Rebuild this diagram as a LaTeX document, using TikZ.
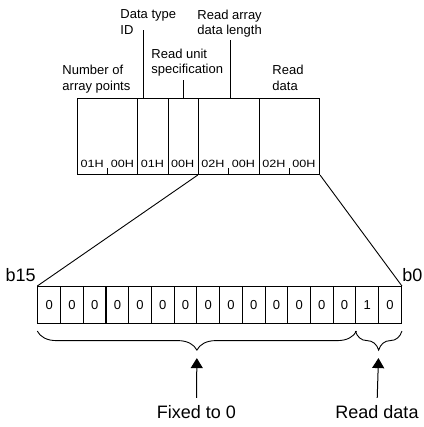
\documentclass[tikz,border=0pt]{standalone}
\usepackage{fontspec}
\setmainfont{Liberation Sans}
\usetikzlibrary{arrows.meta,decorations.pathreplacing,calc}

\begin{document}
\begin{tikzpicture}[
  x=1pt, y=-1pt, line width=0.9pt,
  field/.style={draw, line width=1.1pt, minimum height=76pt, inner sep=0pt, anchor=north west},
  hex/.style={font=\fontsize{10.5}{12}\selectfont, inner sep=0pt, xscale=1.2, transform shape},
  lbl/.style={font=\fontsize{13}{15.5}\selectfont, align=left, inner sep=0pt, anchor=north west},
  bit/.style={draw, line width=1.1pt, minimum width=22.72pt, minimum height=37pt,
              inner sep=0pt, anchor=north west, font=\fontsize{13}{15}\selectfont},
  big/.style={font=\fontsize{18}{20}\selectfont, inner sep=0pt},
  brc/.style={decorate, decoration={brace, mirror, amplitude=19pt}},
  arr/.style={-{Triangle[length=10pt, width=12pt]}, line width=1pt}
]
\useasboundingbox (0,0) rectangle (423,427);

% header words
\node[field, minimum width=60.3pt] (npts) at (77,98) {};
\node[field, minimum width=30.4pt] (dtid) at (137.3,98) {};
\node[field, minimum width=30pt] (unit) at (167.7,98) {};
\node[field, minimum width=61pt] (len) at (197.7,98) {};
\node[field, minimum width=60.3pt] (rdata) at (258.7,98) {};

\foreach \x/\t in {92.2/01H, 122.5/00H, 152.5/01H, 182.7/00H,
                   213/02H, 243.4/00H, 274/02H, 304/00H}
  \node[hex] at (\x,164) {\t};
\foreach \f in {npts, len, rdata}
  \draw (\f.south) -- ++(0,-7);

% field names
\node[lbl] (nptslbl) at (62,65) {Number of\\array points};
\node[lbl] (dtlbl) at (120,9.3) {Data type\\ID};
\node[lbl] (unitlbl) at (151,48.3) {Read unit\\specification};
\node[lbl] (lenlbl) at (197,9.3) {Read array\\data length};
\node[lbl] (rdlbl) at (272,65) {Read\\data};
\draw ([xshift=6.4pt]dtid.north west) -- ++(0,-68);
\draw (unit.north) -- ++(0,-18);
\draw ([xshift=2pt]len.north) -- ++(0,-58);

% bit pattern
\foreach \v [count=\i] in {0,0,0,0,0,0,0,0,0,0,0,0,0,0,1,0}
  \node[bit] (b\i) at ({37.3+(\i-1)*22.72},286) {\v};
\draw (len.south west) -- (b1.north west);
\draw (rdata.south east) -- (b16.north east);
\node[big, anchor=base east] (msb) at (36,281) {b15};
\node[big, anchor=base west] (lsb) at (402,281) {b0};

\draw[brc] (b1.south west) ++(0,7) -- ($(b14.south east)+(0,7)$);
\draw[brc] (b15.south west) ++(0,7) -- ($(b16.south east)+(0,7)$);
\coordinate (ztip) at ($(b1.south west)!0.5!(b14.south east)+(0,28)$);
\coordinate (dtip) at ($(b15.south west)!0.5!(b16.south east)+(0,28)$);

\node[big] (zero) at (196.5,412) {Fixed to 0};
\node[big] (rd) at (377,412) {Read data};
\draw[arr, shorten <=7pt, shorten >=6pt] (zero.north) -- (ztip);
\draw[arr, shorten <=7pt, shorten >=6pt] (rd.north) -- (dtip);
\end{tikzpicture}
\end{document}
